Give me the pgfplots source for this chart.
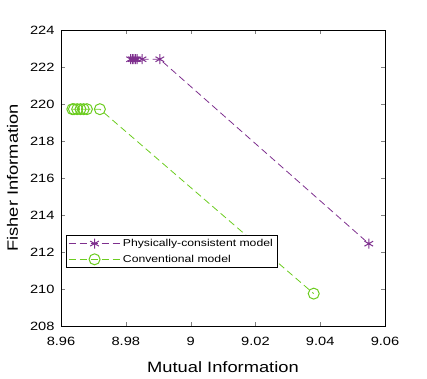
\documentclass[border=0pt]{standalone}
\usepackage{pgfplots}
\pgfplotsset{compat=1.18}
\usepackage{fontspec}
\setmainfont{Liberation Sans}[FakeStretch=1.22]
\definecolor{mpurple}{rgb}{0.494,0.184,0.556}
\definecolor{mgreen}{rgb}{0.42,0.80,0.12}
\begin{document}
\begin{tikzpicture}[x=1pt,y=1pt]
\begin{axis}[
  at={(0,0)}, anchor=south west,
  width=324pt, height=296pt, scale only axis,
  xmin=8.96, xmax=9.06, ymin=208, ymax=224,
  xtick={8.96,8.98,9,9.02,9.04,9.06},
  ytick={208,210,...,224},
  xticklabels={8.96,8.98,9,9.02,9.04,9.06},
  tick align=inside,
  major tick length=4pt,
  tick label style={font=\fontsize{12}{14}\selectfont},
  xticklabel style={yshift=-8pt},
  yticklabel style={xshift=-3pt},
  /pgf/number format/assume math mode=true,
  xlabel={Mutual Information}, ylabel={Fisher Information},
  label style={font=\fontsize{15}{17}\selectfont},
  xlabel style={at={(axis description cs:0.5,-0.14)}, anchor=center},
  ylabel style={at={(axis description cs:-0.15,0.5)}, anchor=center},
  axis line style={line width=0.6pt},
  legend style={at={(0.015,0.196)}, anchor=south west,
    font=\fontsize{10}{12}\selectfont, draw=black, line width=0.6pt,
    inner sep=2pt, row sep=3pt},
  legend cell align=left,
  legend image code/.code={%
    \draw[mark repeat=2,mark phase=2] plot coordinates {(0pt,0pt)(26pt,0pt)(52pt,0pt)};},
]
\addplot[color=mpurple, line width=0.8pt, dash pattern=on 7pt off 4pt,
  mark=asterisk, mark size=5pt, mark options={solid, line width=1pt}] coordinates {
  (8.9815,222.42)(8.982,222.42)(8.9825,222.42)(8.983,222.42)(8.9835,222.42)
  (8.985,222.42)(8.9905,222.42)(9.055,212.45)};
\addlegendentry{Physically-consistent model}
\addplot[color=mgreen, line width=0.8pt, dash pattern=on 7pt off 4pt,
  mark=o, mark size=5.5pt, mark options={solid, line width=1pt}] coordinates {
  (8.9635,219.72)(8.964,219.72)(8.965,219.72)(8.966,219.72)(8.967,219.72)
  (8.968,219.72)(8.972,219.72)(9.038,209.75)};
\addlegendentry{Conventional model}
\end{axis}
\path (-61,-52) rectangle (366,326);
\end{tikzpicture}
\end{document}
